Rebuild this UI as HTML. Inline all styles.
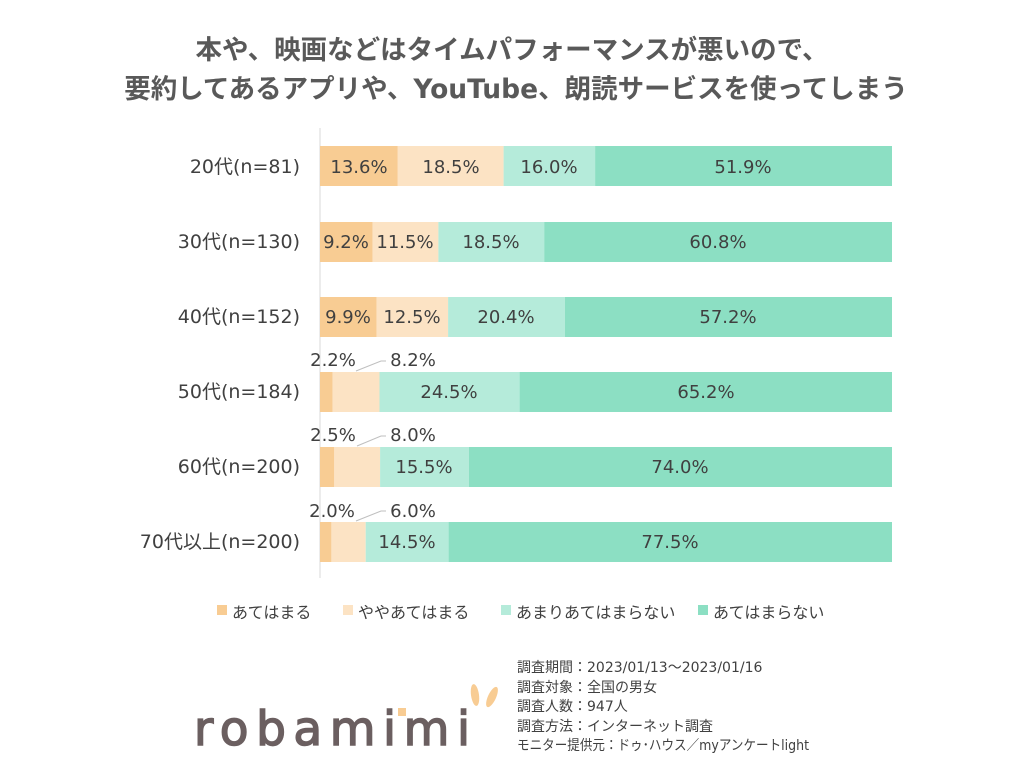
<!DOCTYPE html>
<html><head><meta charset="utf-8"><style>
body{margin:0;background:#fff;}
svg{display:block;font-family:"DejaVu Sans","Noto Sans CJK JP",sans-serif;}
</style></head><body>
<svg width="1024" height="769" viewBox="0 0 1024 769" xmlns="http://www.w3.org/2000/svg">
<g font-weight="bold" font-size="26.5" fill="#595959" text-anchor="middle">
<text x="512" y="59">本や、映画などはタイムパフォーマンスが悪いので、</text>
<text x="516" y="98">要約してあるアプリや、YouTube、朗読サービスを使ってしまう</text>
</g>
<line x1="320" y1="128" x2="320" y2="578" stroke="#d9d9d9" stroke-width="1"/>
<g id="bars">
<rect x="320" y="146" width="77.8" height="40" fill="#f8cc93"/><rect x="397.8" y="146" width="105.8" height="40" fill="#fce3c4"/><rect x="503.6" y="146" width="91.5" height="40" fill="#b5ebda"/><rect x="595.1" y="146" width="296.9" height="40" fill="#8cdfc3"/>
<rect x="320" y="222" width="52.6" height="40" fill="#f8cc93"/><rect x="372.6" y="222" width="65.8" height="40" fill="#fce3c4"/><rect x="438.4" y="222" width="105.8" height="40" fill="#b5ebda"/><rect x="544.2" y="222" width="347.8" height="40" fill="#8cdfc3"/>
<rect x="320" y="297" width="56.6" height="40" fill="#f8cc93"/><rect x="376.6" y="297" width="71.5" height="40" fill="#fce3c4"/><rect x="448.1" y="297" width="116.7" height="40" fill="#b5ebda"/><rect x="564.8" y="297" width="327.2" height="40" fill="#8cdfc3"/>
<rect x="320" y="372" width="12.6" height="40" fill="#f8cc93"/><rect x="332.6" y="372" width="46.9" height="40" fill="#fce3c4"/><rect x="379.5" y="372" width="140.1" height="40" fill="#b5ebda"/><rect x="519.6" y="372" width="372.4" height="40" fill="#8cdfc3"/>
<rect x="320" y="447" width="14.3" height="40" fill="#f8cc93"/><rect x="334.3" y="447" width="45.8" height="40" fill="#fce3c4"/><rect x="380.1" y="447" width="88.7" height="40" fill="#b5ebda"/><rect x="468.8" y="447" width="423.2" height="40" fill="#8cdfc3"/>
<rect x="320" y="522" width="11.4" height="40" fill="#f8cc93"/><rect x="331.4" y="522" width="34.3" height="40" fill="#fce3c4"/><rect x="365.7" y="522" width="82.9" height="40" fill="#b5ebda"/><rect x="448.6" y="522" width="443.4" height="40" fill="#8cdfc3"/>
</g>
<g font-size="19" fill="#404040" text-anchor="end">
<text x="300" y="173">20代(n=81)</text>
<text x="300" y="248">30代(n=130)</text>
<text x="300" y="323">40代(n=152)</text>
<text x="300" y="398">50代(n=184)</text>
<text x="300" y="473">60代(n=200)</text>
<text x="300" y="548">70代以上(n=200)</text>
</g>
<g font-size="18" fill="#404040" text-anchor="middle">
<text x="359" y="173">13.6%</text><text x="451" y="173">18.5%</text><text x="549" y="173">16.0%</text><text x="743" y="173">51.9%</text>
<text x="346" y="248">9.2%</text><text x="405" y="248">11.5%</text><text x="491" y="248">18.5%</text><text x="718" y="248">60.8%</text>
<text x="348" y="323">9.9%</text><text x="412" y="323">12.5%</text><text x="506" y="323">20.4%</text><text x="728" y="323">57.2%</text>
<text x="449" y="398">24.5%</text><text x="706" y="398">65.2%</text>
<text x="424" y="473">15.5%</text><text x="680" y="473">74.0%</text>
<text x="407" y="548">14.5%</text><text x="670" y="548">77.5%</text>
<text x="333" y="366">2.2%</text><text x="413" y="366">8.2%</text>
<text x="333" y="441">2.5%</text><text x="413" y="441">8.0%</text>
<text x="332" y="517">2.0%</text><text x="413" y="517">6.0%</text>
</g>
<g stroke="#bfbfbf" fill="none" stroke-width="1">
<polyline points="356,371 381,361 386,361"/>
<polyline points="357,446 381,436 386,436"/>
<polyline points="356,521 381,511 386,511"/>
</g>
<g font-size="16" fill="#404040">
<rect x="217" y="605" width="10" height="10" fill="#f8cc93"/><text x="232" y="618">あてはまる</text>
<rect x="343" y="605" width="10" height="10" fill="#fce3c4"/><text x="358" y="618">ややあてはまる</text>
<rect x="501" y="605" width="10" height="10" fill="#b5ebda"/><text x="516" y="618">あまりあてはまらない</text>
<rect x="698" y="605" width="10" height="10" fill="#8cdfc3"/><text x="713" y="618">あてはまらない</text>
</g>
<g font-size="14" fill="#404040">
<text x="517" y="672">調査期間：2023/01/13～2023/01/16</text>
<text x="517" y="692">調査対象：全国の男女</text>
<text x="517" y="711">調査人数：947人</text>
<text x="517" y="731">調査方法：インターネット調査</text>
<text x="517" y="750" textLength="292" lengthAdjust="spacingAndGlyphs">モニター提供元：ドゥ･ハウス／myアンケートlight</text>
</g>
<text x="194" y="745" font-size="47" fill="#6b5f60" stroke="#6b5f60" stroke-width="1.5" letter-spacing="6" textLength="282" lengthAdjust="spacing">robamimi</text>
<rect x="398" y="708" width="8" height="8" fill="#f8cc93"/>
<ellipse cx="475" cy="695" rx="4" ry="11" fill="#f8cc93" transform="rotate(-8 475 695)"/>
<ellipse cx="492" cy="697" rx="4" ry="11" fill="#f8cc93" transform="rotate(25 492 697)"/>
</svg>
</body></html>
